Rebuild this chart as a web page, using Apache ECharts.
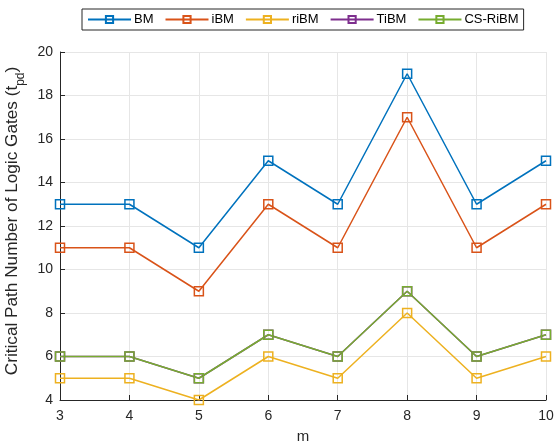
<!DOCTYPE html>
<html>
<head>
<meta charset="utf-8">
<script src="https://cdn.jsdelivr.net/npm/echarts@6/dist/echarts.min.js"></script>
<style>
  html, body { margin: 0; padding: 0; background: #fff; }
  #chart { width: 556px; height: 443px; }
</style>
</head>
<body>
<div id="chart"></div>
<script>
// Word length m on the x axis
const mValues = [3, 4, 5, 6, 7, 8, 9, 10];

// Critical path (in logic gates) for each architecture
const bm     = [13, 13, 11, 15, 13, 19, 13, 15];
const ibm    = [11, 11, 9, 13, 11, 17, 11, 13];
const ribm   = [5, 5, 4, 6, 5, 8, 5, 6];
const tibm   = [6, 6, 5, 7, 6, 9, 6, 7];
const csribm = [6, 6, 5, 7, 6, 9, 6, 7];

const seriesNames = ['BM', 'iBM', 'riBM', 'TiBM', 'CS-RiBM'];
const seriesColors = ['#0072BD', '#D95319', '#EDB120', '#7E2F8E', '#77AC30'];
const seriesValues = [bm, ibm, ribm, tibm, csribm];

const font = 'Liberation Sans, Arial, Helvetica, sans-serif';
const ink = '#262626';

function makeSeries(name, values, color) {
  return {
    name: name,
    type: 'line',
    data: mValues.map((m, i) => [m, values[i]]),
    symbol: 'rect',
    symbolSize: 9,
    lineStyle: { color: color, width: 1.5 },
    itemStyle: { color: 'rgba(255,255,255,0)', borderColor: color, borderWidth: 1.5 },
    emphasis: { disabled: true },
    animation: false
  };
}

const chart = echarts.init(document.getElementById('chart'), null, { renderer: 'canvas' });

chart.setOption({
  backgroundColor: '#fff',
  textStyle: { fontFamily: font, color: ink },
  legend: {
    data: seriesNames,
    left: 82,
    top: 9,
    padding: [4, 5],
    itemGap: 11,
    itemWidth: 43,
    itemHeight: 9,
    borderColor: '#262626',
    borderWidth: 1,
    backgroundColor: '#fff',
    textStyle: { fontFamily: font, fontSize: 13, color: '#000', padding: [0, 0, 0, -2] }
  },
  grid: { left: 60, right: 10, top: 52, bottom: 43, containLabel: false, outerBoundsMode: 'none' },
  xAxis: {
    type: 'value',
    min: 3,
    max: 10,
    interval: 1,
    name: 'm',
    nameLocation: 'middle',
    nameGap: 29,
    nameTextStyle: { fontFamily: font, fontSize: 15, color: ink },
    axisLine: { show: true, onZero: false, lineStyle: { color: ink, width: 1 } },
    axisTick: { show: true, inside: true, length: 5, lineStyle: { color: ink } },
    axisLabel: { fontFamily: font, fontSize: 14, color: ink, margin: 9 },
    splitLine: { show: true, lineStyle: { color: '#e6e6e6', width: 1 } }
  },
  yAxis: {
    type: 'value',
    min: 4,
    max: 20,
    interval: 2,
    name: 'Critical Path Number of Logic Gates (t{sub|pd})',
    nameLocation: 'middle',
    nameGap: 33,
    nameTextStyle: {
      fontFamily: font, fontSize: 17.2, color: ink,
      padding: [0, 0, 0, 10],
      rich: { sub: { fontFamily: font, fontSize: 12, color: ink, verticalAlign: 'bottom', padding: [0, 0, -6, 0] } }
    },
    axisLine: { show: true, onZero: false, lineStyle: { color: ink, width: 1 } },
    axisTick: { show: true, inside: true, length: 5, lineStyle: { color: ink } },
    axisLabel: { fontFamily: font, fontSize: 14, color: ink, margin: 7 },
    splitLine: { show: true, lineStyle: { color: '#e6e6e6', width: 1 } }
  },
  series: seriesNames.map((n, i) => makeSeries(n, seriesValues[i], seriesColors[i]))
});
</script>
</body>
</html>
